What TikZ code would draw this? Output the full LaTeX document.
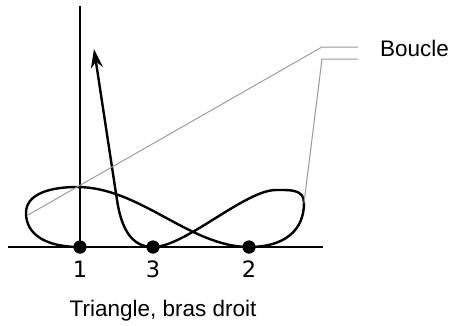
\documentclass[tikz,border=0pt]{standalone}
\usepackage{fontspec}
\setmainfont{Liberation Sans}
\newfontfamily\numfont{DejaVu Sans}
\usetikzlibrary{arrows.meta}
\begin{document}
\begin{tikzpicture}[x=1pt,y=-1pt,
  axisline/.style={line width=2.6pt,black},
  curveline/.style={line width=2.4pt,black},
  leader/.style={line width=1pt,gray!80},
  dotnode/.style={circle,fill=black,inner sep=0pt,minimum size=13pt},
  numlabel/.style={font=\numfont\fontsize{22.5}{24}\selectfont,anchor=base,inner sep=0pt},
  txtlabel/.style={font=\fontsize{22.5}{24}\selectfont,inner sep=0pt}]
\useasboundingbox (0,0) rectangle (450,325);
% axes
\coordinate (vtop) at (80,6);
\coordinate (hl) at (8,247);
\coordinate (hr) at (323,247);
\node[dotnode] (d1) at (80,247) {};
\node[dotnode] (d3) at (153,247) {};
\node[dotnode] (d2) at (249,247) {};
\draw[axisline] (vtop) -- (d1.center);
\draw[axisline] (hl) -- (hr);
% curve
\coordinate (L) at (26,213);
\coordinate (T1) at (77,187);
\coordinate (R) at (304,203);
\coordinate (T2) at (276,190);
\coordinate (K) at (117,200);
\coordinate (tip) at (94,49);
\draw[curveline,-{Stealth[length=19pt,width=12pt]}]
  (d1.center) .. controls (45,247) and (26,234) .. (L)
  .. controls (26,193) and (52,187) .. (T1)
  .. controls (140,187) and (190,247) .. (d2.center)
  .. controls (285,247) and (304,230) .. (R)
  .. controls (304,189) and (290,190) .. (T2)
  .. controls (245,190) and (185,247) .. (d3.center)
  .. controls (130,247) and (121,226) .. (K)
  -- (tip);
\node[dotnode] at (d1) {};
\node[dotnode] at (d3) {};
\node[dotnode] at (d2) {};
% labels
\node[numlabel] (n1) at (80,277) {1};
\node[numlabel] (n3) at (153,277) {3};
\node[numlabel] (n2) at (249,277) {2};
\node[txtlabel,anchor=base] (title) at (163,316) {Triangle, bras droit};
\node[txtlabel,anchor=base west] (boucle) at (380,56) {Boucle};
% leaders
\coordinate (a1) at (28,215);
\coordinate (b1) at (322,47);
\coordinate (c1) at (358,47);
\coordinate (a2) at (R);
\coordinate (b2) at (322,59);
\coordinate (c2) at (358,59);
\draw[leader] (a1) -- (b1) -- (c1);
\draw[leader] (a2) -- (b2) -- (c2);
\end{tikzpicture}
\end{document}
